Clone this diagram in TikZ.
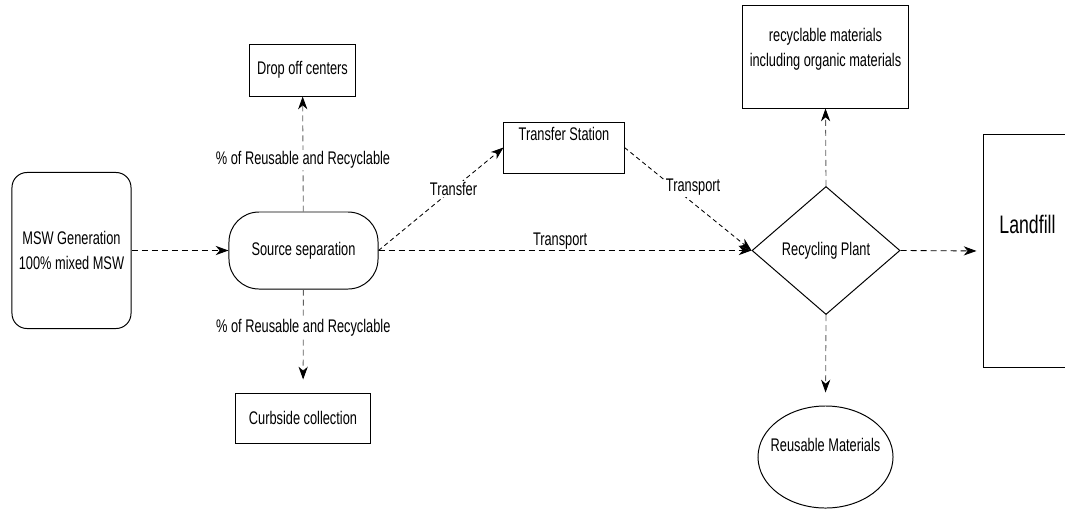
\documentclass[tikz,border=0pt]{standalone}
\usepackage{fontspec}
\setmainfont[FakeStretch=0.7]{Liberation Sans}
\usetikzlibrary{positioning,arrows.meta,shapes.geometric}
\tikzset{
  box/.style={draw, line width=0.7pt, fill=white, align=center, inner sep=0pt,
              font=\fontsize{13}{17.7}\selectfont},
  arr/.style={-{Stealth[length=3.2mm, width=2.3mm, inset=1mm, color=black]},
              line width=0.6pt, dash pattern=on 0.15cm off 0.1cm},
  varr/.style={arr, draw=gray!75!black},
  darr/.style={arr, dash pattern=on 0.11cm off 0.08cm},
  lbl/.style={font=\fontsize{13}{15}\selectfont, fill=white, inner sep=1pt},
}

\begin{document}
\begin{tikzpicture}[x=0.025cm, y=-0.025cm]
  \useasboundingbox (0,0) rectangle (1065,508);
  \clip (0,0) rectangle (1065,508);

  \node[box, rounded corners=0.375cm, minimum width=2.975cm, minimum height=3.9cm] (msw) at (71.5,250.5) {MSW Generation\\100\% mixed MSW};
  \node[box, rounded corners=0.75cm, minimum width=3.725cm, minimum height=1.925cm] (sep) at (303.5,250.5) {Source separation};
  \node[box, minimum width=2.625cm, minimum height=1.3cm] (drop) at (302.5,70) {Drop off centers};
  \node[box, minimum width=3.35cm, minimum height=1.25cm] (curb) at (303,418) {Curbside collection};
  \node[box, minimum width=3cm, minimum height=1.275cm, text height=0.35cm, text depth=0.71cm] (station) at (564,147.5) {Transfer Station};

  \node[box, diamond, aspect=1.156, minimum width=3.7cm, minimum height=3.2cm] (plant) at (826,250.5) {Recycling Plant};
  \node[box] (recyc) at (825.5,57) {\parbox[c][2.55cm][t]{4.125cm}{\centering\fontsize{13}{18}\selectfont
      \vspace*{0.55cm}recyclable materials\\including organic materials}};
  \node[box, ellipse, minimum width=3.375cm, minimum height=2.55cm, text height=0.3cm, text depth=0.6cm] (reuse) at (825.5,457)
      {\makebox[1.5cm][c]{Reusable Materials}};
  \node[box, minimum width=2.225cm, minimum height=5.8cm, font=\fontsize{18}{20}\selectfont,
        text height=0.45cm, text depth=1.325cm] (landfill) at (1027.5,251) {Landfill};

  \draw[arr] (msw.east) -- (sep.west);
  \draw[varr] (sep) -- node[lbl, pos=0.45] (lblup) {\% of Reusable and Recyclable} (drop);
  \draw[varr, shorten >=0.325cm] (sep) -- node[lbl, pos=0.375] (lbldown) {\% of Reusable and Recyclable} (curb);
  \draw[darr] (sep.east) -- node[lbl, pos=0.6] (lbltransfer) {Transfer} (station.west);
  \draw[darr] (station.east) -- node[lbl, pos=0.54, yshift=0.4cm] (lbltransport) {Transport} (plant.west);
  \draw[arr] (sep.east) -- node[lbl, above, pos=0.487, inner sep=0.5pt] (lbldirect) {Transport} (plant.west);
  \draw[varr] (plant.north) -- (recyc.south);
  \draw[varr, shorten >=0.325cm] (plant.south) -- (reuse.north);
  \draw[arr, shorten >=0.15cm] (plant.east) -- (landfill.west);
\end{tikzpicture}
\end{document}
